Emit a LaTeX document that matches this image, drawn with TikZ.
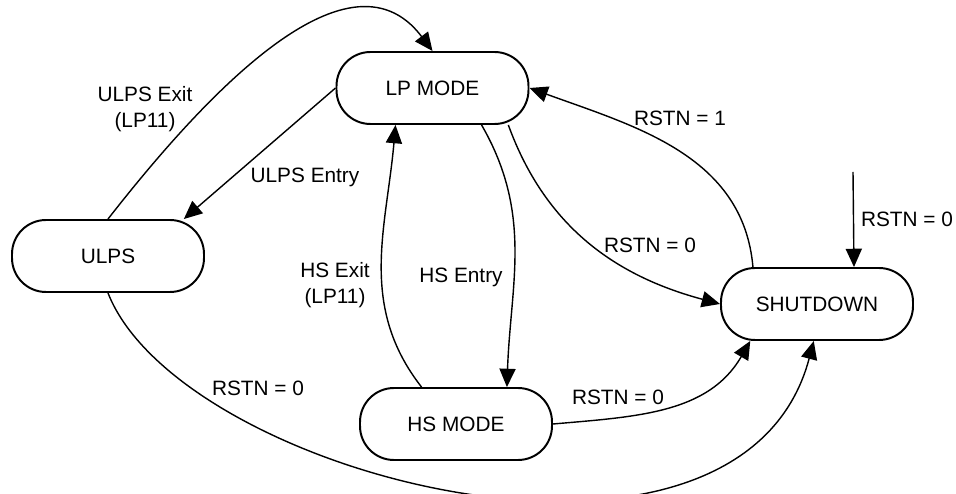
\documentclass[tikz,border=0pt]{standalone}
\usepackage{fontspec}
\setmainfont{Liberation Sans}
\usetikzlibrary{arrows.meta}
\tikzstyle{etat} = [draw,line width=1.4pt,rounded corners=0.85cm,minimum width=4.8cm,minimum height=1.8cm,inner sep=0pt]
\tikzstyle{fleche} = [-{Triangle[length=13pt,width=11.5pt]},line width=1pt]
\tikzstyle{etiq} = [align=center,inner sep=1pt]

\begin{document}
\begin{tikzpicture}[font=\fontsize{14.8}{18.5}\selectfont]

	\useasboundingbox (0,0) rectangle (23.9,12.325);

	% les etats
	\node[etat] (LP) at (10.8125,10.125) {LP MODE};
	\node[etat] (ULPS) at (2.7,5.925) {ULPS};
	\node[etat] (HS) at (11.4,1.725) {HS MODE};
	\node[etat] (SD) at (20.425,4.725) {SHUTDOWN};

	% les etiquettes
	\node[etiq] (eUX) at (3.625,9.6) {ULPS Exit\\(LP11)};
	\node[etiq] (eUE) at (7.625,7.9) {ULPS Entry};
	\node[etiq] (eHX) at (8.375,5.2) {HS Exit\\(LP11)};
	\node[etiq] (eHE) at (11.525,5.4) {HS Entry};
	\node[etiq] (eR1) at (17.0,9.375) {RSTN = 1};
	\node[etiq] (eR0a) at (16.25,6.2) {RSTN = 0};
	\node[etiq] (eR0b) at (22.675,6.85) {RSTN = 0};
	\node[etiq] (eR0c) at (15.45,2.4) {RSTN = 0};
	\node[etiq] (eR0d) at (6.45,2.625) {RSTN = 0};

	\coordinate (entree) at (21.325,8.025);

	% les transitions
	\draw[fleche] (ULPS.north) to[out=52,in=127] (LP.north);
	\draw[fleche] (LP.west) -- (ULPS.26);
	\draw[fleche] (HS.133) to[out=128,in=-95] (LP.225);
	\draw[fleche] (LP.-37) to[out=-60,in=88] (HS.36);
	\draw[fleche] (LP.-26) to[out=-70,in=165] (SD.west);
	\draw[fleche] (SD.150) to[out=95,in=-20] (LP.east);
	\draw[fleche] (entree) -- (SD.45);
	\draw[fleche] (HS.east) to[out=5,in=240] (SD.209);
	\draw[fleche] (ULPS.south) .. controls (4.5,0.4) and (18.5,-3.175) .. (SD.265);

\end{tikzpicture}
\end{document}
